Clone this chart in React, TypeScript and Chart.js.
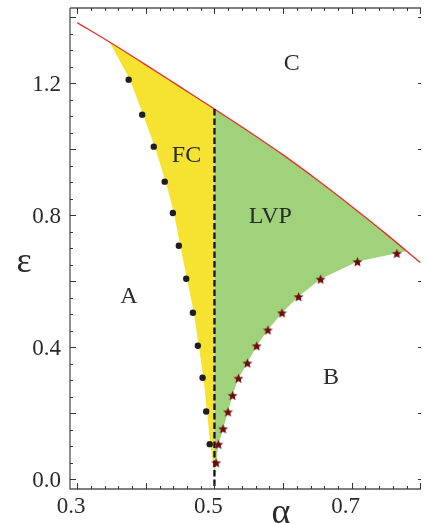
import React, { useEffect, useRef } from "react";
import { Chart, registerables } from "chart.js";

Chart.register(...registerables);

// Phase boundary C (red line)
const redAlpha = [0.3, 0.347, 0.4, 0.45, 0.5, 0.55, 0.6, 0.65, 0.7, 0.75, 0.8];
const redEps = [1.384, 1.325, 1.256, 1.189, 1.122, 1.054, 0.983, 0.907, 0.827, 0.744, 0.657];

// FC left boundary (yellow edge), top to bottom
const fcEdgeAlpha = [0.347, 0.377, 0.396, 0.413, 0.429, 0.441, 0.45, 0.46, 0.47, 0.477, 0.484, 0.489, 0.494, 0.5];
const fcEdgeEps = [1.325, 1.211, 1.105, 1.008, 0.902, 0.807, 0.708, 0.608, 0.505, 0.405, 0.308, 0.206, 0.107, 0.02];

// Black dots
const dotAlpha = [0.375, 0.3947, 0.4116, 0.4275, 0.4394, 0.4481, 0.4589, 0.4686, 0.4758, 0.4827, 0.488, 0.4931];
const dotEps = [1.211, 1.105, 1.008, 0.902, 0.807, 0.708, 0.608, 0.505, 0.405, 0.308, 0.206, 0.107];

// Stars (LVP lower boundary)
const starAlpha = [0.5025, 0.5058, 0.5126, 0.5198, 0.5264, 0.535, 0.548, 0.5616, 0.5779, 0.5985, 0.6226, 0.6547, 0.7084, 0.7658];
const starEps = [0.051, 0.107, 0.154, 0.205, 0.255, 0.307, 0.353, 0.405, 0.453, 0.505, 0.554, 0.607, 0.66, 0.685];

// LVP right tip where the star curve meets the red line
const lvpTip = { x: 0.78, y: 0.691 };
const splitAlpha = 0.5;
const bottomTipEps = 0.02;

// Axis ticks
const xTickValues = [0.3, 0.5, 0.7];
const xTickLabels = ["0.3", "0.5", "0.7"];
const yTickValues = [0.0, 0.4, 0.8, 1.2];
const yTickLabels = ["0.0", "0.4", "0.8", "1.2"];

// Region labels (data coords of text baseline centre)
const regionText = ["C", "FC", "LVP", "A", "B"];
const regionAlpha = [0.6125, 0.4593, 0.5815, 0.3753, 0.6697];
const regionEps = [1.239, 0.963, 0.778, 0.534, 0.288];

const X_MIN = 0.2895;
const X_MAX = 0.801;
const Y_MIN = -0.0288;
const Y_MAX = 1.428;

function pts(xs: number[], ys: number[]) {
  return xs.map((x, i) => ({ x, y: ys[i] }));
}

function redAt(a: number) {
  for (let i = 0; i < redAlpha.length - 1; i++) {
    if (a >= redAlpha[i] && a <= redAlpha[i + 1]) {
      const t = (a - redAlpha[i]) / (redAlpha[i + 1] - redAlpha[i]);
      return redEps[i] + t * (redEps[i + 1] - redEps[i]);
    }
  }
  return redEps[redEps.length - 1];
}

function makeStar(size: number, color: string) {
  const c = document.createElement("canvas");
  c.width = size;
  c.height = size;
  const g = c.getContext("2d")!;
  const R = size / 2 - 0.3;
  const r = R * 0.45;
  g.beginPath();
  for (let i = 0; i < 10; i++) {
    const ang = -Math.PI / 2 + (i * Math.PI) / 5;
    const rr = i % 2 === 0 ? R : r;
    const px = size / 2 + rr * Math.cos(ang);
    const py = size / 2 + 0.6 + rr * Math.sin(ang);
    if (i === 0) g.moveTo(px, py);
    else g.lineTo(px, py);
  }
  g.closePath();
  g.fillStyle = color;
  g.fill();
  return c;
}

const FONT = "'Liberation Serif', 'Times New Roman', serif";

const axesPlugin = {
  id: "mathAxes",
  afterDraw(chart: any) {
    const { ctx, chartArea: a, scales } = chart;
    const xs = scales.x;
    const ys = scales.y;
    ctx.save();
    ctx.strokeStyle = "#555";
    ctx.lineWidth = 1.3;
    ctx.beginPath();
    ctx.moveTo(a.left, a.top);
    ctx.lineTo(a.left, a.bottom);
    ctx.lineTo(a.right, a.bottom);
    ctx.moveTo(a.left, a.top);
    ctx.lineTo(a.right, a.top);
    ctx.stroke();

    ctx.lineWidth = 1;
    ctx.strokeStyle = "#333";
    ctx.beginPath();
    for (let k = 15; k <= 40; k++) {
      const v = k * 0.02;
      const px = Math.round(xs.getPixelForValue(v)) + 0.5;
      const len = k % 5 === 0 ? 6 : 3;
      ctx.moveTo(px, a.bottom);
      ctx.lineTo(px, a.bottom - len);
      ctx.moveTo(px, a.top);
      ctx.lineTo(px, a.top + len);
    }
    for (let k = 0; k <= 28; k++) {
      const v = k * 0.05;
      const py = Math.round(ys.getPixelForValue(v)) + 0.5;
      const len = k % 4 === 0 ? 6 : 3;
      ctx.moveTo(a.left, py);
      ctx.lineTo(a.left + len, py);
      if (k % 4 === 0) {
        ctx.moveTo(a.right, py);
        ctx.lineTo(a.right - 3, py);
      }
    }
    ctx.stroke();

    ctx.fillStyle = "#2a2a2a";
    ctx.font = `23px ${FONT}`;
    ctx.textBaseline = "alphabetic";
    ctx.textAlign = "center";
    xTickValues.forEach((v, i) => {
      ctx.fillText(xTickLabels[i], xs.getPixelForValue(v) - 6, a.bottom + 24);
    });
    ctx.textAlign = "right";
    yTickValues.forEach((v, i) => {
      ctx.fillText(yTickLabels[i], a.left - 9, ys.getPixelForValue(v) + 7.5);
    });

    ctx.font = `24px ${FONT}`;
    ctx.textAlign = "center";
    regionText.forEach((t, i) => {
      ctx.fillText(t, xs.getPixelForValue(regionAlpha[i]), ys.getPixelForValue(regionEps[i]));
    });

    ctx.font = `36px ${FONT}`;
    ctx.textAlign = "center";
    ctx.fillText("ε", 24, 272);
    ctx.fillText("α", 281, 523);
    ctx.restore();
  },
};

export default function App() {
  const ref = useRef<HTMLCanvasElement>(null);

  useEffect(() => {
    const canvas = ref.current!;
    const star = makeStar(11, "#6e0b0b");

    const topEdge = redAlpha
      .filter((a) => a > fcEdgeAlpha[0] && a < splitAlpha)
      .map((a) => ({ x: a, y: redEps[redAlpha.indexOf(a)] }));
    const yellow = [
      { x: fcEdgeAlpha[0], y: fcEdgeEps[0] },
      ...topEdge,
      { x: splitAlpha, y: redAt(splitAlpha) },
      { x: splitAlpha, y: bottomTipEps },
      ...pts(fcEdgeAlpha, fcEdgeEps).reverse(),
    ];

    const greenTop = redAlpha
      .filter((a) => a > splitAlpha && a < lvpTip.x)
      .map((a) => ({ x: a, y: redEps[redAlpha.indexOf(a)] }));
    const green = [
      { x: splitAlpha, y: redAt(splitAlpha) },
      ...greenTop,
      lvpTip,
      ...pts(starAlpha, starEps).reverse(),
      { x: splitAlpha, y: bottomTipEps },
      { x: splitAlpha, y: redAt(splitAlpha) },
    ];

    const chart = new Chart(canvas, {
      type: "scatter",
      data: {
        datasets: [
          {
            data: pts(starAlpha, starEps),
            pointStyle: star as any,
            pointRadius: 5,
            showLine: false,
          },
          {
            data: pts(dotAlpha, dotEps),
            pointRadius: 3.2,
            backgroundColor: "#1e1e1e",
            borderWidth: 0,
            showLine: false,
          },
          {
            data: [
              { x: splitAlpha, y: redAt(splitAlpha) },
              { x: splitAlpha, y: Y_MIN },
            ],
            showLine: true,
            borderColor: "#111",
            borderWidth: 2.3,
            borderDash: [6.5, 3],
            pointRadius: 0,
          },
          {
            data: pts(redAlpha, redEps),
            showLine: true,
            borderColor: "#e8322b",
            borderWidth: 1.4,
            pointRadius: 0,
            cubicInterpolationMode: "monotone",
          },
          {
            data: green,
            showLine: true,
            borderWidth: 0,
            borderColor: "rgba(0,0,0,0)",
            backgroundColor: "#a0d27c",
            fill: "shape",
            pointRadius: 0,
          },
          {
            data: yellow,
            showLine: true,
            borderWidth: 0,
            borderColor: "rgba(0,0,0,0)",
            backgroundColor: "#f6e331",
            fill: "shape",
            pointRadius: 0,
          },
        ] as any,
      },
      options: {
        animation: false,
        responsive: false,
        maintainAspectRatio: false,
        layout: { padding: { left: 70, right: 2, top: 8, bottom: 34 } },
        scales: {
          x: { type: "linear", min: X_MIN, max: X_MAX, display: false },
          y: { type: "linear", min: Y_MIN, max: Y_MAX, display: false },
        },
        plugins: {
          legend: { display: false },
          tooltip: { enabled: false },
        },
        events: [],
      },
      plugins: [axesPlugin],
    });
    return () => chart.destroy();
  }, []);

  return (
    <div style={{ position: "fixed", left: 0, top: 0, width: 427, height: 523, background: "#fff" }}>
      <canvas ref={ref} width={427} height={523} style={{ display: "block" }} />
    </div>
  );
}
